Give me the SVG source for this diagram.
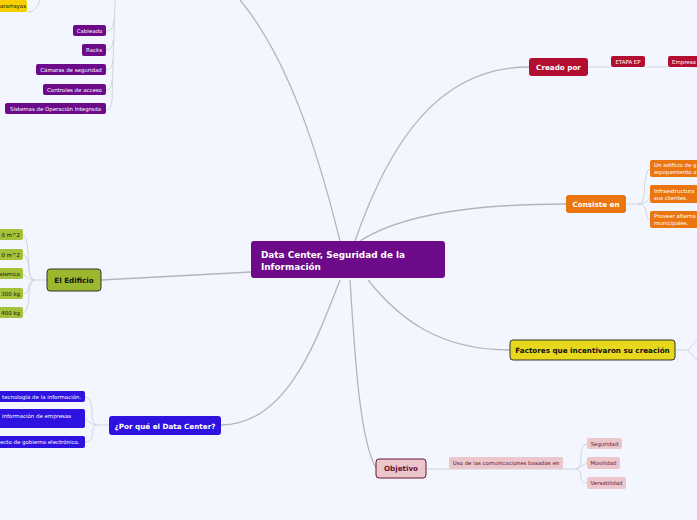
<svg xmlns="http://www.w3.org/2000/svg" width="697" height="520" viewBox="0 0 697 520">
<style>
text{font-family:"DejaVu Sans","Liberation Sans",sans-serif}
.c{fill:none;stroke:#b4b4bc;stroke-width:1.3}
.s{fill:none;stroke:#d2d4dc;stroke-width:1}
.b{font-weight:bold;font-size:7.2px}
.t{font-size:5.45px}
.w{fill:#fff}
.k{fill:#111}
.m{fill:#6b1530}
</style>
<rect width="697" height="520" fill="#f3f6fe"/>
<g id="connectors">
<path class="c" d="M340,241 C320,160 290,60 240,0"/>
<path class="c" d="M355,241 C390,140 440,67 529,67"/>
<path class="c" d="M360,241 C400,215 470,204 566,204"/>
<path class="c" d="M368,280 C400,320 440,350 510,350"/>
<path class="c" d="M350,280 C355,360 360,440 376,468"/>
<path class="c" d="M340,280 C320,330 290,425 221,425"/>
<path class="c" d="M101,280 L251,272"/>
<path class="s" d="M115,0 L112,100 Q111,110 106,110"/>
<path class="s" d="M114,20 Q114,31 106,31 M113,40 Q113,50 106,50 M113,60 Q112,70 106,70 M112,80 Q112,90 106,90"/>
<path class="s" d="M40,0 Q36,13 27,12"/>
<path class="s" d="M588,67 L611,67 M645,67 L668,67 M690,67 L697,67"/>
<path class="s" d="M626,204 L638,204 Q643,204 644,195 Q645,169 650,169 M638,204 Q650,204 650,194 M638,204 Q645,204 646,212 Q647,220 650,220"/>
<path class="s" d="M675,350 L688,350 Q692,345 697,340 M688,350 Q692,355 697,360"/>
<path class="s" d="M426,469 L576,469 Q581,469 581,458 Q581,444 587,444 M576,469 L587,463 M576,469 Q581,469 581,478 Q581,483 587,483"/>
<path class="s" d="M47,280 L35,280 Q30,280 29,270 Q28,235 23,235 M35,280 Q30,280 29,270 Q28,255 23,255 M35,280 Q28,280 23,274 M35,280 Q29,280 28,290 Q27,294 23,294 M35,280 Q30,280 29,295 Q28,313 23,313"/>
<path class="s" d="M109,425 L97,425 Q92,425 92,412 Q92,397 85,397 M97,425 Q90,425 85,418 M97,425 Q92,425 92,436 Q92,442 85,442"/>
</g>
<g id="center">
<rect x="251" y="241" width="194" height="37" rx="3" fill="#6c0a8a"/>
<text x="261" y="258" class="w" font-weight="bold" font-size="8.9px">Data Center, Seguridad de la</text>
<text x="261" y="270" class="w" font-weight="bold" font-size="8.9px">Información</text>
</g>
<g id="pararrayos"><rect x="-4" y="0" width="31" height="12" rx="2" fill="#f5cf00"/><text x="0" y="8" class="t k">ararrayos</text></g>
<g id="cableado"><rect x="73" y="25" width="33" height="11" rx="2" fill="#6c0a8a"/><text x="89.5" y="32.5" text-anchor="middle" class="t w">Cableado</text></g>
<g id="racks"><rect x="82" y="44" width="24" height="12" rx="2" fill="#6c0a8a"/><text x="94" y="52" text-anchor="middle" class="t w">Racks</text></g>
<g id="camaras"><rect x="36" y="64" width="70" height="11" rx="2" fill="#6c0a8a"/><text x="71" y="71.5" text-anchor="middle" class="t w">Cámaras de seguridad</text></g>
<g id="controles"><rect x="43" y="84" width="63" height="11" rx="2" fill="#6c0a8a"/><text x="74.5" y="91.5" text-anchor="middle" class="t w">Controles de acceso</text></g>
<g id="sistemas"><rect x="5" y="103" width="101" height="11" rx="2" fill="#6c0a8a"/><text x="55.5" y="110.5" text-anchor="middle" class="t w">Sistemas de Operación Integrada</text></g>
<g id="creado"><rect x="529" y="58" width="59" height="18" rx="3" fill="#b30d2f"/><text x="558.5" y="69.5" text-anchor="middle" class="b w">Creado por</text></g>
<g id="etapa"><rect x="611" y="56" width="34" height="11" rx="2" fill="#b30d2f"/><text x="628" y="63.5" text-anchor="middle" class="t w">ETAPA EP</text></g>
<g id="empresa"><rect x="668" y="56" width="34" height="11" rx="2" fill="#b30d2f"/><text x="672" y="63.5" class="t w">Empresa</text></g>
<g id="consiste"><rect x="566" y="195" width="60" height="18" rx="3" fill="#eb750f"/><text x="596" y="206.5" text-anchor="middle" class="b w">Consiste en</text></g>
<g id="edificio1"><rect x="650" y="160" width="52" height="17" rx="2" fill="#eb750f"/><text x="654" y="167" class="t w">Un edificio de g</text><text x="654" y="174" class="t w">equipamiento a</text></g>
<g id="infra"><rect x="650" y="185" width="52" height="18" rx="2" fill="#eb750f"/><text x="654" y="192.5" class="t w">Infraestructura</text><text x="654" y="199.5" class="t w">sus clientes.</text></g>
<g id="proveer"><rect x="650" y="211" width="52" height="17" rx="2" fill="#eb750f"/><text x="654" y="218" class="t w">Proveer alterna</text><text x="654" y="225" class="t w">municipales.</text></g>
<g id="factores"><rect x="510" y="340" width="165" height="20" rx="3" fill="#e7d81e" stroke="#333" stroke-width="1"/><text x="592.5" y="353" text-anchor="middle" class="b k">Factores que incentivaron su creación</text></g>
<g id="objetivo"><rect x="376" y="459" width="50" height="19" rx="3" fill="#ebc6cb" stroke="#6b1530" stroke-width="1"/><text x="401" y="471" text-anchor="middle" class="b m">Objetivo</text></g>
<g id="uso"><rect x="449" y="457" width="114" height="12" rx="2" fill="#ebc6cb"/><text x="506" y="465" text-anchor="middle" class="t m">Uso de las comunicaciones basadas en</text></g>
<g id="seguridad"><rect x="587" y="438" width="35" height="11" rx="2" fill="#ebc6cb"/><text x="604.5" y="445.5" text-anchor="middle" class="t m">Seguridad</text></g>
<g id="movilidad"><rect x="587" y="457" width="33" height="12" rx="2" fill="#ebc6cb"/><text x="603.5" y="465" text-anchor="middle" class="t m">Movilidad</text></g>
<g id="versatilidad"><rect x="587" y="477" width="39" height="12" rx="2" fill="#ebc6cb"/><text x="606.5" y="485" text-anchor="middle" class="t m">Versatilidad</text></g>
<g id="el-edificio"><rect x="47" y="269" width="54" height="22" rx="3" fill="#9cb82e" stroke="#333" stroke-width="1"/><text x="74" y="283" text-anchor="middle" class="b k">El Edificio</text></g>
<g id="area1"><rect x="-4" y="229" width="27" height="11" rx="2" fill="#a3c23a"/><text x="20" y="236.5" text-anchor="end" class="t k">0 m^2</text></g>
<g id="area2"><rect x="-4" y="249" width="27" height="11" rx="2" fill="#a3c23a"/><text x="20" y="256.5" text-anchor="end" class="t k">0 m^2</text></g>
<g id="sismico"><rect x="-4" y="268" width="27" height="11" rx="2" fill="#a3c23a"/><text x="20" y="275.5" text-anchor="end" class="t k">sísmico</text></g>
<g id="carga1"><rect x="-4" y="288" width="27" height="11" rx="2" fill="#a3c23a"/><text x="20" y="295.5" text-anchor="end" class="t k">300 kg</text></g>
<g id="carga2"><rect x="-4" y="307" width="27" height="11" rx="2" fill="#a3c23a"/><text x="20" y="314.5" text-anchor="end" class="t k">400 kg</text></g>
<g id="porque"><rect x="109" y="416" width="112" height="19" rx="3" fill="#2e12e0"/><text x="165" y="428.5" text-anchor="middle" class="b w">¿Por qué el Data Center?</text></g>
<g id="tecnologia"><rect x="-4" y="391" width="89" height="11" rx="2" fill="#2e12e0"/><text x="2" y="398.5" class="t w">tecnología de la información.</text></g>
<g id="informacion"><rect x="-4" y="409" width="89" height="19" rx="2" fill="#2e12e0"/><text x="2" y="418" class="t w">información de empresas</text></g>
<g id="gobierno"><rect x="-4" y="436" width="89" height="12" rx="2" fill="#2e12e0"/><text x="0" y="444" class="t w">ecto de gobierno electrónico.</text></g>
</svg>
